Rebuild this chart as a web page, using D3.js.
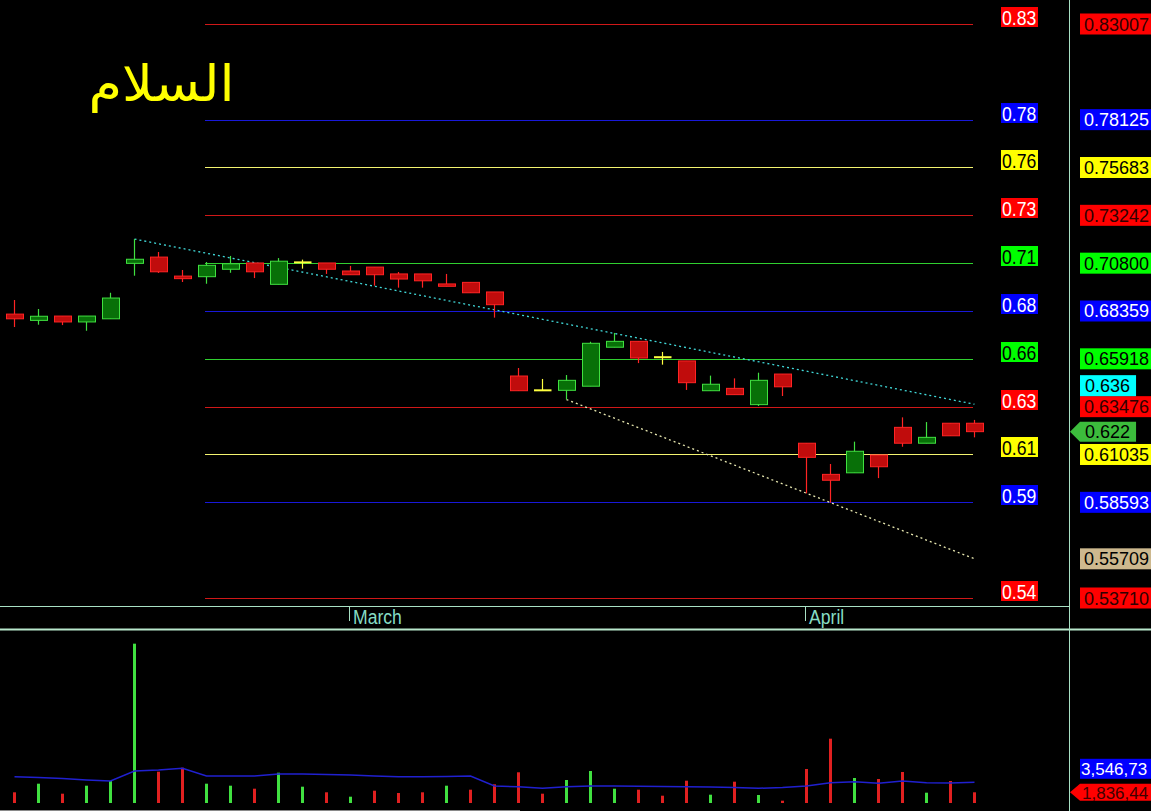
<!DOCTYPE html>
<html><head><meta charset="utf-8">
<script src="https://cdn.jsdelivr.net/npm/d3@7/dist/d3.min.js"></script>
<style>html,body{margin:0;padding:0;background:#000;overflow:hidden}svg{display:block}</style>
</head><body><svg id="chart" width="1151" height="811"></svg>
<script>
// ---------------- DATA ----------------
const opens  = [0.6820,0.6788,0.6810,0.6780,0.6796,0.7079,0.7111,0.7014,0.7011,0.7049,0.7081,0.6972,0.7084,0.7081,0.7040,0.7060,0.7025,0.7025,0.6974,0.6982,0.6933,0.6504,0.6431,0.6431,0.6452,0.6651,0.6681,0.6600,0.6581,0.6429,0.6441,0.6358,0.6514,0.6161,0.6002,0.6010,0.6101,0.6242,0.6161,0.6263,0.6263];
const highs  = [0.6892,0.6846,0.6810,0.6810,0.6929,0.7203,0.7137,0.7045,0.7086,0.7117,0.7081,0.7106,0.7098,0.7081,0.7066,0.7060,0.7035,0.7025,0.7025,0.6982,0.6933,0.6545,0.6489,0.6509,0.6679,0.6724,0.6681,0.6627,0.6581,0.6506,0.6492,0.6521,0.6514,0.6161,0.6055,0.6169,0.6101,0.6293,0.6269,0.6263,0.6280];
const lows   = [0.6754,0.6766,0.6764,0.6735,0.6796,0.7016,0.7030,0.6984,0.6975,0.7031,0.7004,0.6972,0.7052,0.7025,0.7021,0.6965,0.6955,0.6955,0.6962,0.6929,0.6802,0.6429,0.6431,0.6384,0.6452,0.6651,0.6570,0.6562,0.6433,0.6429,0.6409,0.6351,0.6402,0.5905,0.5857,0.6010,0.5983,0.6143,0.6161,0.6199,0.6191];
const closes = [0.6796,0.6809,0.6780,0.6810,0.6902,0.7100,0.7036,0.7001,0.7069,0.7077,0.7036,0.7090,0.7084,0.7049,0.7021,0.7021,0.6999,0.6990,0.6962,0.6929,0.6868,0.6429,0.6431,0.6482,0.6671,0.6681,0.6596,0.6600,0.6470,0.6462,0.6409,0.6482,0.6449,0.6089,0.5972,0.6120,0.6041,0.6161,0.6191,0.6199,0.6220];

const volumes = [1836000,3312000,1596000,2969000,3776000,27340000,5372000,6058000,3312000,2969000,2454000,5200000,2798000,1836000,1081000,2111000,1716000,1836000,2969000,2283000,3209000,5269000,1596000,3947000,5492000,2454000,2283000,1253000,3827000,1425000,3656000,1373000,395000,5835000,11036000,4291000,4119000,5320000,1768000,3776000,1836440];
const volumeDir = ["d","u","d","u","u","u","d","d","u","u","d","u","u","d","u","d","d","d","u","d","d","d","d","u","u","u","d","d","d","u","d","u","d","d","d","u","d","d","u","d","d"];
const volumeMA = [4514000,4377000,4205000,3947000,3776000,5492000,5664000,5955000,4634000,4634000,4634000,4977000,4977000,4891000,4806000,4634000,4514000,4514000,4548000,4634000,2918000,2798000,2523000,2798000,2918000,2918000,2866000,2832000,2798000,2746000,2660000,2523000,2660000,2918000,3484000,3656000,3381000,3776000,3484000,3433000,3546730];

const fibLevels = [0.83007,0.78125,0.75683,0.73242,0.70800,0.68359,0.65918,0.63476,0.61035,0.58593,0.53710];
const fibShortLabels = ["0.83","0.78","0.76","0.73","0.71","0.68","0.66","0.63","0.61","0.59","0.54"];

const monthLabels = ["March","April"];
const monthStartIndex = [14,33];

const trendCyan  = [[5,0.7203],[40,0.6360]];
const trendWhite = [[23,0.6384],[40,0.5571]];
const trendCyanLabel = "0.636";
const trendWhiteLabel = "0.55709";
const lastPriceLabel = "0.622";
const volMALabel = "3,546,73";
const lastVolLabel = "1,836,44";
const titleText = "السلام";

// ---------------- STYLE ----------------
const fibPalette = ["red","blue","yellow","red","green","blue","green","red","yellow","blue","red"];
const lineCol = {red:"#d01818",blue:"#1818d8",yellow:"#f4f470",green:"#30d030"};
const boxCol  = {red:"#ff0000",blue:"#0000ff",yellow:"#ffff00",green:"#00ff00"};
const leftTxt = {red:"#ffffff",blue:"#ffffff",yellow:"#000000",green:"#000000"};
const rightTxt= {red:"#300000",blue:"#ffffff",yellow:"#000000",green:"#000000"};
const FONT = "'Liberation Sans', Arial, sans-serif";
const SQ = 0.88;

const W = 1151, H = 811;
const plotRight = 1069;
const svg = d3.select("#chart");
svg.append("rect").attr("width",W).attr("height",H).attr("fill","#000");

const n = opens.length;
const x = d3.scaleLinear().domain([0, n-1]).range([14.5, 974.5]);
const y = d3.scaleLinear().domain([0.53710, 0.83007]).range([598, 24]);
const yv = d3.scaleLinear().domain([0, 30030000]).range([803, 628]);

function squeeze(sel, f){
  sel.each(function(){
    const w = this.getComputedTextLength();
    this.setAttribute("textLength", w*f);
    this.setAttribute("lengthAdjust","spacingAndGlyphs");
  });
}

// title
svg.append("text").attr("x",161.5).attr("y",101).attr("text-anchor","middle")
  .attr("font-family","'DejaVu Sans', sans-serif").attr("font-size",50)
  .attr("textLength",146).attr("lengthAdjust","spacingAndGlyphs")
  .attr("fill","#ffff00").text(titleText);

// fib lines
const fibX1 = 205, fibX2 = 973;
svg.append("g").selectAll("line").data(fibLevels).join("line")
  .attr("x1",fibX1).attr("x2",fibX2)
  .attr("y1",d=>Math.round(y(d))+0.5).attr("y2",d=>Math.round(y(d))+0.5)
  .attr("stroke",(d,i)=>lineCol[fibPalette[i]]).attr("stroke-width",1);

// trendlines
const trendLine = d3.line().x(d=>x(d[0])).y(d=>y(d[1]));
svg.append("path").attr("d",trendLine(trendCyan)).attr("fill","none")
  .attr("stroke","#40d8d8").attr("stroke-width",1.3).attr("stroke-dasharray","2,3");
svg.append("path").attr("d",trendLine(trendWhite)).attr("fill","none")
  .attr("stroke","#e8e8b0").attr("stroke-width",1.3).attr("stroke-dasharray","2,3");

// candles
const candles = d3.range(n).map(i=>({i,o:opens[i],h:highs[i],l:lows[i],c:closes[i]}));
const cColor = d => d.c>d.o ? "#40e040" : (d.c<d.o ? "#ff2424" : "#ffff40");
const cFill  = d => d.c>d.o ? "#087008" : (d.c<d.o ? "#c00c0c" : "#ffff40");
const cg = svg.append("g");
cg.selectAll("line.wick").data(candles).join("line").attr("class","wick")
  .attr("x1",d=>x(d.i)).attr("x2",d=>x(d.i))
  .attr("y1",d=>y(d.h)).attr("y2",d=>y(d.l))
  .attr("stroke",cColor).attr("stroke-width",1.2);
cg.selectAll("rect.body").data(candles.filter(d=>d.o!==d.c)).join("rect").attr("class","body")
  .attr("x",d=>Math.floor(x(d.i))-8+0.5).attr("width",17)
  .attr("y",d=>y(Math.max(d.o,d.c))).attr("height",d=>Math.max(1,Math.abs(y(d.o)-y(d.c))))
  .attr("fill",cFill).attr("stroke",cColor).attr("stroke-width",1);
cg.selectAll("line.doji").data(candles.filter(d=>d.o===d.c)).join("line").attr("class","doji")
  .attr("x1",d=>x(d.i)-8.5).attr("x2",d=>x(d.i)+9)
  .attr("y1",d=>y(d.o)).attr("y2",d=>y(d.o))
  .attr("stroke","#ffff40").attr("stroke-width",2);

// frame lines
const frameCol = "#a8e0c4";
svg.append("line").attr("x1",0).attr("x2",plotRight).attr("y1",606.5).attr("y2",606.5).attr("stroke",frameCol);
svg.append("line").attr("x1",0).attr("x2",W).attr("y1",629.5).attr("y2",629.5).attr("stroke","#b8e8cc").attr("stroke-width",2);
svg.append("line").attr("x1",plotRight+0.5).attr("x2",plotRight+0.5).attr("y1",0).attr("y2",H).attr("stroke",frameCol);
svg.append("line").attr("x1",0).attr("x2",520).attr("y1",810.5).attr("y2",810.5).attr("stroke","#8a8a8a");

// month axis
const mg = svg.append("g");
monthLabels.forEach((m,k)=>{
  const xi = x(monthStartIndex[k]);
  mg.append("line").attr("x1",Math.floor(xi)-0.5).attr("x2",Math.floor(xi)-0.5).attr("y1",607).attr("y2",621).attr("stroke",frameCol);
  mg.append("text").attr("x",Math.floor(xi)+3).attr("y",624).attr("font-family",FONT).attr("font-size",20)
    .attr("fill","#86dcc4").text(m).call(squeeze,SQ);
});

// left fib labels
const lg = svg.append("g");
fibLevels.forEach((v,i)=>{
  const yy = Math.round(y(v));
  const c = fibPalette[i];
  lg.append("rect").attr("x",1001).attr("y",yy-17).attr("width",37).attr("height",20).attr("fill",boxCol[c]);
  lg.append("text").attr("x",1002).attr("y",yy+1).attr("font-family",FONT).attr("font-size",20)
    .attr("fill",leftTxt[c]).text(fibShortLabels[i]).call(squeeze,SQ);
});

// right price labels
const fmt5 = d3.format(".5f");
const rg = svg.append("g");
function rightLabel(cy, text, bg, fg, h, arrow, tx, fs){
  const t = rg.append("text").attr("x",tx).attr("y",cy+6.5).attr("font-family",FONT).attr("font-size",fs)
    .attr("fill",fg).text(text);
  const tw = t.node().getComputedTextLength();
  const x0 = 1080, x1 = Math.min(W, tx + tw + 6);
  const top = cy - h/2, bot = cy + h/2;
  if (arrow){
    rg.insert("path","text").attr("d",`M${plotRight+1},${cy} L${x0},${top} L${x1},${top} L${x1},${bot} L${x0},${bot} Z`).attr("fill",bg);
  } else {
    rg.insert("rect","text").attr("x",x0).attr("y",top).attr("width",x1-x0).attr("height",h).attr("fill",bg);
  }
}
const fixedBoxes = [];
fibLevels.forEach((v,i)=>{
  const cy = y(v);
  const c = fibPalette[i];
  fixedBoxes.push(cy);
  rightLabel(cy, fmt5(v), boxCol[c], rightTxt[c], 21, false, 1084, 18);
});
function resolve(cy,h){
  fixedBoxes.forEach(fy=>{ if (Math.abs(fy-cy) < h) cy = fy - h; });
  return cy;
}
rightLabel(resolve(y(trendCyan[1][1]),21), trendCyanLabel, "#00ffff", "#000", 21, false, 1085, 18);
rightLabel(resolve(y(trendWhite[1][1]),21), trendWhiteLabel, "#cdb88e", "#000", 21, false, 1084, 18);
rightLabel(y(closes[n-1]), lastPriceLabel, "#3cbc3c", "#000", 20, true, 1085, 18);

// volume
const vg = svg.append("g");
vg.selectAll("rect").data(volumes).join("rect")
  .attr("x",(d,i)=>Math.floor(x(i))-1).attr("width",3)
  .attr("y",d=>yv(d)).attr("height",d=>yv(0)-yv(d))
  .attr("fill",(d,i)=>volumeDir[i]==="u" ? "#40e040" : "#e02020");
vg.append("path").datum(volumeMA)
  .attr("d",d3.line().x((d,i)=>x(i)).y(d=>yv(d)))
  .attr("fill","none").attr("stroke","#2020d0").attr("stroke-width",1.5);

// volume labels
const lastVolY = Math.min(yv(volumes[n-1]), 795);
rightLabel(lastVolY, lastVolLabel, "#ff0000", "#400000", 17, true, 1082, 17);
const maY = Math.min(yv(volumeMA[n-1]), lastVolY - 8.5 - 5 - 10);
rightLabel(maY, volMALabel, "#0000ff", "#ffffff", 20, false, 1081, 17);
</script></body></html>
